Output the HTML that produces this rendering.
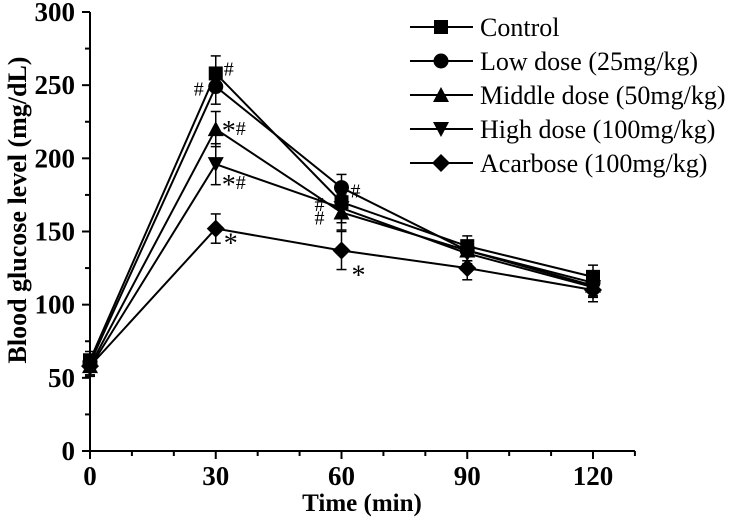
<!DOCTYPE html>
<html><head><meta charset="utf-8"><style>
html,body{margin:0;padding:0;background:#fff;}
svg{display:block;font-family:"Liberation Serif",serif;}
</style></head><body>
<svg id="chart" width="734" height="519" viewBox="0 0 734 519">
<g id="axes"></g>
<g id="series"></g>
<g id="annot"></g>
<g id="legend"></g>
<text x="-210" y="26" transform="rotate(-90)" text-anchor="middle" font-size="26" font-weight="bold">Blood glucose level (mg/dL)</text>
<text x="362" y="511" text-anchor="middle" font-size="25" font-weight="bold">Time (min)</text>
</svg>
<script>
const times = [0, 30, 60, 90, 120];
const seriesNames = ["Control", "Low dose (25mg/kg)", "Middle dose (50mg/kg)", "High dose (100mg/kg)", "Acarbose (100mg/kg)"];
const control = [62, 258, 170, 140, 119];
const lowDose = [60, 249, 180, 137, 115];
const middleDose = [58, 220, 163, 137, 113];
const highDose = [57, 196, 166, 135, 112];
const acarbose = [58, 152, 137, 125, 110];
const controlErr = [6, 12, 10, 7, 8];
const lowErr = [6, 12, 9, 7, 7];
const middleErr = [6, 12, 12, 7, 7];
const highErr = [6, 14, 10, 7, 7];
const acarboseErr = [6, 10, 13, 8, 8];
const xTicks = [0, 30, 60, 90, 120];
const yTicks = [0, 50, 100, 150, 200, 250, 300];

const NS = "http://www.w3.org/2000/svg";
const X0 = 90, X1 = 593, Y0 = 451, Y1 = 12;
function xs(v){ return X0 + (X1 - X0) * v / 120; }
function ys(v){ return Y0 - (Y0 - Y1) * v / 300; }
function mk(tag, attrs, parent){ const e = document.createElementNS(NS, tag); for (const k in attrs) e.setAttribute(k, attrs[k]); parent.appendChild(e); return e; }

const axes = document.getElementById("axes");
let e;
e = mk("line", {x1: X0 - 1, y1: Y0, x2: xs(130), y2: Y0, stroke: "#000", "stroke-width": 2}, axes);


e = mk("line", {x1: X0, y1: Y0 + 1, x2: X0, y2: Y1, stroke: "#000", "stroke-width": 2}, axes);


for (let m = 0; m <= 130; m += 10) {
  const major = m % 30 === 0;
  mk("line", {x1: xs(m), y1: Y0, x2: xs(m), y2: Y0 + (major ? 8 : 5), stroke: "#000", "stroke-width": 2}, axes);
}
xTicks.forEach(t => {
  e = mk("text", {x: xs(t), y: 485, "text-anchor": "middle", "font-size": 27, "font-weight": "bold"}, axes);
  e.textContent = t;
  
  
});
for (let v = 0; v <= 300; v += 25) {
  const major = v % 50 === 0;
  mk("line", {x1: X0 - (major ? 8 : 5), y1: ys(v), x2: X0, y2: ys(v), stroke: "#000", "stroke-width": 2}, axes);
}
yTicks.forEach(t => {
  e = mk("text", {x: 75, y: ys(t) + 9, "text-anchor": "end", "font-size": 27, "font-weight": "bold"}, axes);
  e.textContent = t;
  
  
});

function marker(type, cx, cy, parent){
  const s = 7;
  if (type === 0) return mk("rect", {x: cx - s, y: cy - s, width: 2*s, height: 2*s, fill: "#000"}, parent);
  if (type === 1) return mk("circle", {cx: cx, cy: cy, r: s + 0.5, fill: "#000"}, parent);
  if (type === 2) return mk("polygon", {points: `${cx},${cy-s-1} ${cx+s+1},${cy+s} ${cx-s-1},${cy+s}`, fill: "#000"}, parent);
  if (type === 3) return mk("polygon", {points: `${cx},${cy+s+1} ${cx+s+1},${cy-s} ${cx-s-1},${cy-s}`, fill: "#000"}, parent);
  return mk("polygon", {points: `${cx},${cy-s-2} ${cx+s+2},${cy} ${cx},${cy+s+2} ${cx-s-2},${cy}`, fill: "#000"}, parent);
}

const allData = [control, lowDose, middleDose, highDose, acarbose];
const allErr = [controlErr, lowErr, middleErr, highErr, acarboseErr];
const seriesKeys = ["control", "low-dose", "middle-dose", "high-dose", "acarbose"];
const sg = document.getElementById("series");
allData.forEach((d, i) => {
  const g = mk("g", {}, sg);
  
  
  const pts = d.map((v, j) => xs(times[j]) + "," + ys(v)).join(" ");
  e = mk("polyline", {points: pts, fill: "none", stroke: "#000", "stroke-width": 2}, g);
  
  
  d.forEach((v, j) => {
    const x = xs(times[j]), err = allErr[i][j];
    mk("line", {x1: x, y1: ys(v - err), x2: x, y2: ys(v + err), stroke: "#000", "stroke-width": 1.5}, g);
    mk("line", {x1: x - 5, y1: ys(v + err), x2: x + 5, y2: ys(v + err), stroke: "#000", "stroke-width": 1.5}, g);
    mk("line", {x1: x - 5, y1: ys(v - err), x2: x + 5, y2: ys(v - err), stroke: "#000", "stroke-width": 1.5}, g);
    e = marker(i, x, ys(v), g);
    
    
  });
});

const an = document.getElementById("annot");
const notes = [
  [0, 1, "#", 8, -5], [1, 1, "#", -22, 2], [2, 1, "*#", 6, -1], [3, 1, "*#", 6, 18],
  [4, 1, "*", 8, 12], [1, 2, "#", 9, 3], [0, 2, "#", -27, 2], [2, 2, "#", -27, 5], [4, 2, "*", 10, 22]
];
notes.forEach(n => {
  const [si, ti, txt, dx, dy] = n;
  const cy = ys(allData[si][ti]) + dy;
  const g = mk("text", {x: xs(times[ti]) + dx, y: cy + 7, "font-size": 20}, an);
  if (txt.startsWith("*")) {
    const a = mk("tspan", {"font-size": 28, dy: 5}, g);
    a.textContent = "*";
    if (txt.length > 1) { const b = mk("tspan", {"font-size": 20, dy: -5}, g); b.textContent = "#"; }
  } else {
    g.textContent = txt;
  }
  
  
});

const lg = document.getElementById("legend");
seriesNames.forEach((name, i) => {
  const y = 27 + i * 34;
  const g = mk("g", {}, lg);
  
  
  mk("line", {x1: 410, y1: y, x2: 473, y2: y, stroke: "#000", "stroke-width": 2}, g);
  marker(i, 441, y, g);
  e = mk("text", {x: 480, y: y + 9, "font-size": 26}, g);
  e.textContent = name;
});
</script>
</body></html>
